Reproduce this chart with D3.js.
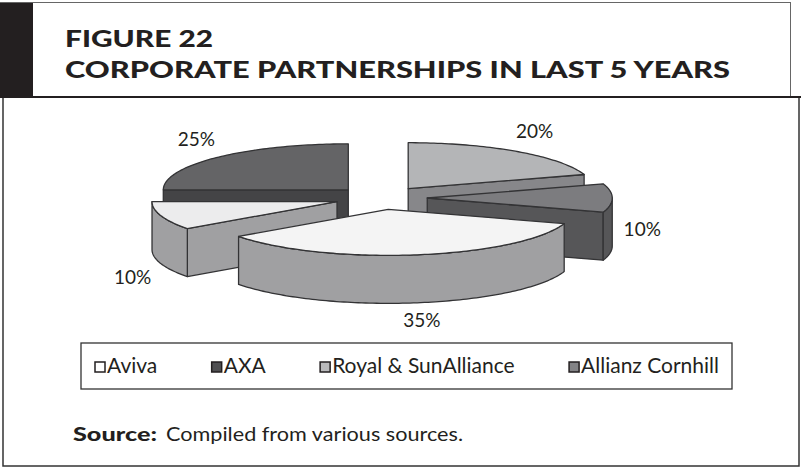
<!DOCTYPE html>
<html>
<head>
<meta charset="utf-8">
<script src="https://cdn.jsdelivr.net/npm/d3@7"></script>
<style>
body { margin: 0; background: #fff; }
text { font-family: Lato, "Open Sans", sans-serif; fill: #231f20; }
</style>
</head>
<body>
<svg id="chart" width="801" height="468"></svg>
<script>
var W = 801, H = 468;

// data
var categories = ["Aviva", "Other", "AXA", "Royal & SunAlliance", "Allianz Cornhill"];
var shares = [35, 10, 25, 20, 10];
var legendNames = ["Aviva", "AXA", "Royal & SunAlliance", "Allianz Cornhill"];
var titleLines = ["FIGURE 22", "CORPORATE PARTNERSHIPS IN LAST 5 YEARS"];
var sourceBold = "Source:";
var sourceText = "Compiled from various sources.";

var topColor = d3.scaleOrdinal()
	.domain(categories)
	.range(["#f4f4f4", "#ececed", "#646466", "#b4b5b7", "#7c7c7f"]);
var sideColor = d3.scaleOrdinal()
	.domain(categories)
	.range(["#a0a0a2", "#a0a0a2", "#444446", "#87878a", "#565658"]);
var swatchColor = d3.scaleOrdinal()
	.domain(categories)
	.range(["#ffffff", "#ffffff", "#4f4f51", "#b9b9bb", "#838386"]);

var cx = 381, cy = 198;   // pie centre
var rx = 185, ry = 46;    // ellipse radii of the top face
var depth = 48;
var explode = 0.25;
var edge = "#333335";

var svg = d3.select("#chart");

// frames
svg.append("rect").attr("x", 0.5).attr("y", 2.5).attr("width", 790).attr("height", 94)
	.attr("fill", "#fff").attr("stroke", "#666").attr("stroke-width", 1);
svg.append("rect").attr("x", 0).attr("y", 3).attr("width", 33).attr("height", 94).attr("fill", "#231f20");
svg.append("rect").attr("x", 3).attr("y", 97).attr("width", 796).attr("height", 369)
	.attr("fill", "#fff").attr("stroke", "#333").attr("stroke-width", 1.5);
svg.append("line").attr("x1", 0).attr("x2", 801).attr("y1", 97).attr("y2", 97)
	.attr("stroke", "#231f20").attr("stroke-width", 2);

// title
var titleWidths = [148, 665];
svg.selectAll("text.title")
	.data(titleLines)
	.enter()
	.append("text")
	.attr("class", "title")
	.attr("x", 65)
	.attr("y", (d, i) => 47 + i * 31)
	.style("font-size", "23.5px")
	.style("font-weight", "900")
	.attr("textLength", (d, i) => titleWidths[i])
	.attr("lengthAdjust", "spacingAndGlyphs")
	.text(d => d);

// pie geometry
var pie = d3.pie().sort(null).value(d => d)
	.startAngle(108 * Math.PI / 180)
	.endAngle(108 * Math.PI / 180 + 2 * Math.PI);
var arcs = pie(shares);

arcs.forEach((a, i) => {
	a.name = categories[i];
	a.mid = (a.startAngle + a.endAngle) / 2;
	a.cx = cx + explode * rx * Math.sin(a.mid);
	a.cy = cy - explode * ry * Math.cos(a.mid);
});

function pt(a, t, dz) {
	return [a.cx + rx * Math.sin(t), a.cy - ry * Math.cos(t) + dz];
}

function arcPoints(a, t0, t1, dz) {
	var n = Math.max(2, Math.ceil((t1 - t0) / 0.02));
	return d3.range(n + 1).map(k => pt(a, t0 + (t1 - t0) * k / n, dz));
}

var line = d3.line();

function topFace(a) {
	return line([[a.cx, a.cy]].concat(arcPoints(a, a.startAngle, a.endAngle, 0))) + "Z";
}

function wall(a, t) {
	var p = pt(a, t, 0), q = pt(a, t, depth);
	return line([[a.cx, a.cy], p, q, [a.cx, a.cy + depth]]) + "Z";
}

function outerWall(a) {
	// part of the rim that faces the viewer: angles with cos < 0
	var segs = [];
	[0, 2 * Math.PI].forEach(off => {
		var lo = Math.max(a.startAngle, Math.PI / 2 + off);
		var hi = Math.min(a.endAngle, 3 * Math.PI / 2 + off);
		if (hi > lo) segs.push([lo, hi]);
	});
	return segs.map(s => line(arcPoints(a, s[0], s[1], 0).concat(arcPoints(a, s[0], s[1], depth).reverse())) + "Z").join("");
}

// paint from back to front
var order = arcs.slice().sort((a, b) => (-Math.cos(a.mid)) - (-Math.cos(b.mid)));

var g = svg.append("g").attr("stroke", edge).attr("stroke-width", 1.3).attr("stroke-linejoin", "round");

order.forEach(a => {
	var s = g.append("g");
	if (Math.sin(a.startAngle) < -1e-6) {
		s.append("path").attr("d", wall(a, a.startAngle)).attr("fill", sideColor(a.name));
	}
	if (Math.sin(a.endAngle) > 1e-6) {
		s.append("path").attr("d", wall(a, a.endAngle)).attr("fill", sideColor(a.name));
	}
	var ow = outerWall(a);
	if (ow) s.append("path").attr("d", ow).attr("fill", sideColor(a.name));
	s.append("path").attr("d", topFace(a)).attr("fill", topColor(a.name));
});

// percentage labels, outside the slice; front slices sit below the rim
function labelY(d) {
	var c = Math.cos(d.mid);
	if (c > 1e-6) return d.cy - (ry + 25) * c;
	return d.cy + depth * 0.66 + (ry + 34) * Math.sqrt(Math.max(0, -c));
}
var total = d3.sum(shares);
svg.selectAll("text.pct")
	.data(arcs)
	.enter()
	.append("text")
	.attr("class", "pct")
	.attr("x", d => d.cx + (rx + 30) * Math.sin(d.mid))
	.attr("y", labelY)
	.attr("dy", "0.35em")
	.attr("text-anchor", "middle")
	.style("font-size", "19px")
	.text(d => Math.round(d.value / total * 100) + "%");

// legend
svg.append("rect").attr("x", 81).attr("y", 343).attr("width", 651).attr("height", 46)
	.attr("fill", "#fff").attr("stroke", "#333").attr("stroke-width", 1.3);

var lg = svg.append("g");
var items = lg.selectAll("g.item")
	.data(legendNames)
	.enter()
	.append("g")
	.attr("class", "item");
items.append("rect")
	.attr("width", 10).attr("height", 10)
	.attr("y", 362)
	.attr("fill", d => swatchColor(d))
	.attr("stroke", "#231f20").attr("stroke-width", 1.5);
items.append("text")
	.attr("y", 373)
	.style("font-size", "21px")
	.text(d => d);

var widths = [];
items.select("text").each(function() { widths.push(this.getComputedTextLength()); });
var itemW = widths.map(w => w + 13);
var x0 = 95, x1 = 720;
var gap = (x1 - x0 - d3.sum(itemW)) / (legendNames.length - 1);
var pos = [], acc = x0;
itemW.forEach(w => { pos.push(acc); acc += w + gap; });
items.select("rect").attr("x", (d, i) => pos[i]);
items.select("text").attr("x", (d, i) => pos[i] + 12);

// source
svg.append("text").attr("x", 73).attr("y", 441)
	.style("font-size", "19px").style("font-weight", "900")
	.attr("textLength", 84).attr("lengthAdjust", "spacingAndGlyphs")
	.text(sourceBold);
svg.append("text").attr("x", 166).attr("y", 441)
	.style("font-size", "19px")
	.attr("textLength", 297).attr("lengthAdjust", "spacingAndGlyphs")
	.text(sourceText);
</script>
</body>
</html>
